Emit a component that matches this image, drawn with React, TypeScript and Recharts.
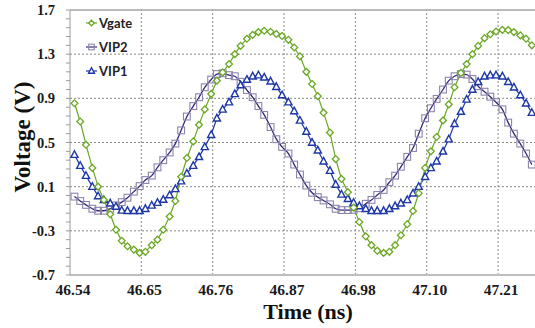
import { LineChart, Line, XAxis, YAxis, ReferenceLine, Label } from 'recharts'

// sample times (ns)
const time = [
  46.547, 46.556, 46.565, 46.575, 46.584, 46.593, 46.603, 46.612, 46.621, 46.63,
  46.64, 46.649, 46.658, 46.668, 46.677, 46.686, 46.696, 46.705, 46.714, 46.723,
  46.733, 46.742, 46.751, 46.761, 46.77, 46.779, 46.789, 46.798, 46.807, 46.817,
  46.826, 46.835, 46.844, 46.854, 46.863, 46.872, 46.882, 46.891, 46.9, 46.91,
  46.919, 46.928, 46.937, 46.947, 46.956, 46.965, 46.975, 46.984, 46.993, 47.003,
  47.012, 47.021, 47.031, 47.04, 47.049, 47.058, 47.068, 47.077, 47.086, 47.096,
  47.105, 47.114, 47.124, 47.133, 47.142, 47.152, 47.161, 47.17, 47.179, 47.189,
  47.198, 47.207, 47.217, 47.226, 47.235, 47.245, 47.254, 47.263,
]

const vgate = [
  0.855, 0.69, 0.48, 0.27, 0.1, -0.02, -0.15, -0.29, -0.39, -0.44,
  -0.47, -0.5, -0.49, -0.43, -0.38, -0.29, -0.17, -0.03, 0.19, 0.36,
  0.51, 0.66, 0.8, 0.94, 1.06, 1.135, 1.21, 1.3, 1.375, 1.44,
  1.475, 1.5, 1.512, 1.503, 1.483, 1.465, 1.43, 1.36, 1.28, 1.14,
  1.03, 0.92, 0.77, 0.59, 0.35, 0.17, 0.05, -0.09, -0.22, -0.35,
  -0.43, -0.48, -0.5, -0.49, -0.43, -0.34, -0.24, -0.12, 0.04, 0.27,
  0.42, 0.55, 0.7, 0.845, 1.0, 1.13, 1.21, 1.3, 1.375, 1.445,
  1.48, 1.505, 1.52, 1.518, 1.5, 1.47, 1.44, 1.38,
]

const vip2 = [
  0.01, -0.03, -0.065, -0.1, -0.118, -0.118, -0.1, -0.07, -0.04, 0.0,
  0.055, 0.105, 0.16, 0.2, 0.275, 0.34, 0.41, 0.49, 0.61, 0.735,
  0.83, 0.91, 1.0, 1.07, 1.12, 1.127, 1.11, 1.1, 1.05, 0.975,
  0.91, 0.83, 0.75, 0.64, 0.53, 0.46, 0.4, 0.3, 0.21, 0.11,
  0.045, 0.005, -0.025, -0.06, -0.1, -0.112, -0.112, -0.11, -0.095, -0.055,
  -0.02, 0.025, 0.07, 0.14, 0.2, 0.28, 0.37, 0.45, 0.58, 0.72,
  0.81, 0.895, 0.98, 1.06, 1.1, 1.12, 1.115, 1.075, 1.01, 0.96,
  0.915, 0.865, 0.8, 0.68, 0.58, 0.49, 0.4, 0.3,
]

const vip1 = [
  0.39, 0.29, 0.2, 0.1, 0.015, -0.02, -0.05, -0.08, -0.115, -0.118,
  -0.118, -0.118, -0.1, -0.07, -0.045, -0.017, 0.024, 0.08, 0.15, 0.22,
  0.29, 0.37, 0.46, 0.57, 0.72, 0.8, 0.865, 0.94, 1.02, 1.07,
  1.1, 1.11, 1.09, 1.055, 1.005, 0.93, 0.865, 0.785, 0.7, 0.6,
  0.5, 0.43, 0.33, 0.245, 0.12, 0.03, -0.01, -0.045, -0.075, -0.1,
  -0.118, -0.118, -0.118, -0.1, -0.075, -0.05, -0.02, 0.04, 0.1, 0.19,
  0.27, 0.33, 0.42, 0.53, 0.67, 0.78, 0.89, 0.98, 1.05, 1.1,
  1.11, 1.11, 1.1, 1.05, 1.0, 0.93, 0.855, 0.77,
]

const xTickLabels = ['46.54', '46.65', '46.76', '46.87', '46.98', '47.10', '47.21']
const xTickStep = 0.1117
const xDomain = [46.54, 47.268]
const yTickLabels = ['-0.7', '-0.3', '0.1', '0.5', '0.9', '1.3', '1.7']
const yMinorPerMajor = 5

const GREEN = '#6aa823'
const PURPLE_LINE = '#35277a'
const PURPLE_MARK = '#8c86ad'
const BLUE = '#1d37a6'
const GRID = '#8a8a8a'
const SERIF = '"Liberation Serif", "Times New Roman", serif'

const series = [
  { key: 'vgate', name: 'Vgate', line: GREEN, mark: GREEN, shape: 'diamond' },
  { key: 'vip2', name: 'VIP2', line: PURPLE_LINE, mark: PURPLE_MARK, shape: 'square' },
  { key: 'vip1', name: 'VIP1', line: BLUE, mark: BLUE, shape: 'triangle' },
]

const data = time.map((t, i) => ({ t, vgate: vgate[i], vip2: vip2[i], vip1: vip1[i] }))

const xTicks = xTickLabels.map((_, i) => +(xDomain[0] + i * xTickStep).toFixed(4))
const yMajor = yTickLabels.map(Number)
const yTicks: number[] = []
yMajor.forEach((v, i) => {
  if (i === yMajor.length - 1) {
    yTicks.push(v)
    return
  }
  const step = (yMajor[i + 1] - v) / yMinorPerMajor
  for (let j = 0; j < yMinorPerMajor; j++) yTicks.push(+(v + j * step).toFixed(3))
})

function Marker({ shape, cx, cy, color, s = 3.4 }: { shape: string; cx: number; cy: number; color: string; s?: number }) {
  if (shape === 'diamond') {
    return (
      <path
        d={`M${cx},${cy - s}L${cx + s},${cy}L${cx},${cy + s}L${cx - s},${cy}Z`}
        fill="#fff"
        stroke={color}
        strokeWidth={1.3}
      />
    )
  }
  if (shape === 'square') {
    return <rect x={cx - s} y={cy - s} width={2 * s} height={2 * s} fill="none" stroke={color} strokeWidth={1.1} />
  }
  return (
    <path
      d={`M${cx},${cy - s * 1.15}L${cx + s * 1.05},${cy + s * 0.8}L${cx - s * 1.05},${cy + s * 0.8}Z`}
      fill="#fff"
      stroke={color}
      strokeWidth={1.4}
    />
  )
}

function dotFor(shape: string, color: string) {
  return (p: any) => <Marker key={`${shape}-${p.index}`} shape={shape} cx={p.cx} cy={p.cy} color={color} />
}

function XTick({ x, y, payload }: any) {
  const idx = xTicks.findIndex((m) => Math.abs(m - payload.value) < 1e-6)
  return (
    <text x={x + 3} y={y + 20} textAnchor="middle" fontFamily={SERIF} fontWeight={700} fontSize={15.5} fill="#1a1a1a">
      {idx >= 0 ? xTickLabels[idx] : ''}
    </text>
  )
}

function YTick({ x, y, payload }: any) {
  const idx = yMajor.findIndex((m) => Math.abs(m - payload.value) < 1e-6)
  if (idx < 0) return <g />
  return (
    <text x={x} y={y + 5} textAnchor="end" fontFamily={SERIF} fontWeight={700} fontSize={14.5} fill="#1a1a1a">
      {yTickLabels[idx]}
    </text>
  )
}

function LegendBox() {
  return (
    <div
      style={{
        position: 'absolute',
        left: 85,
        top: 11,
        fontFamily: 'Lato, "Liberation Sans", sans-serif',
        fontWeight: 700,
        fontSize: 13,
        color: '#222',
      }}
    >
      {series.map((s) => (
        <div key={s.key} style={{ display: 'flex', alignItems: 'center', height: 24 }}>
          <svg width={13} height={10} style={{ marginRight: 1 }}>
            <line x1={1} y1={5} x2={12} y2={5} stroke={s.line} strokeWidth={1.2} />
            <Marker shape={s.shape} cx={6.5} cy={5} color={s.mark} s={2.8} />
          </svg>
          <span>{s.name}</span>
        </div>
      ))}
    </div>
  )
}

export default function App() {
  return (
    <div style={{ position: 'absolute', left: 0, top: 0, width: 535, height: 328, background: '#fff' }}>
      <LineChart width={535} height={328} data={data} margin={{ top: 10, right: 0, bottom: 23, left: 0 }}>
        {yMajor.slice(1, -1).map((v) => (
          <ReferenceLine key={`h${v}`} y={v} stroke={GRID} strokeDasharray="2 2" />
        ))}
        {xTicks.slice(1).map((v) => (
          <ReferenceLine key={`v${v}`} x={v} stroke={GRID} strokeDasharray="2 2" />
        ))}
        <ReferenceLine y={1.7} stroke="#a6a6a6" strokeWidth={1.5} />
        <XAxis
          dataKey="t"
          type="number"
          domain={xDomain}
          ticks={xTicks}
          allowDataOverflow
          height={30}
          tickSize={0}
          tickMargin={0}
          axisLine={{ stroke: '#bdbdbd', strokeWidth: 2 }}
          tickLine={false}
          tick={<XTick />}
        >
          <Label
            content={() => (
              <text x={308} y={319} textAnchor="middle" fontFamily={SERIF} fontWeight={700} fontSize={22} fill="#111">
                Time (ns)
              </text>
            )}
          />
        </XAxis>
        <YAxis
          type="number"
          domain={[yMajor[0], yMajor[yMajor.length - 1]]}
          ticks={yTicks}
          interval={0}
          allowDataOverflow
          width={70}
          tickSize={4}
          tickMargin={11}
          axisLine={{ stroke: '#9a9a9a' }}
          tickLine={{ stroke: '#9a9a9a' }}
          tick={<YTick />}
        >
          <Label
            content={() => (
              <text
                x={22}
                y={137}
                transform="rotate(-90 22 137)"
                textAnchor="middle"
                dominantBaseline="central"
                fontFamily={SERIF}
                fontWeight={700}
                fontSize={23}
                fill="#111"
              >
                Voltage (V)
              </text>
            )}
          />
        </YAxis>
        <Line
          dataKey="vip2"
          type="monotone"
          stroke={PURPLE_LINE}
          strokeWidth={1.3}
          dot={dotFor('square', PURPLE_MARK)}
          activeDot={false}
          isAnimationActive={false}
        />
        <Line
          dataKey="vip1"
          type="linear"
          stroke={BLUE}
          strokeWidth={1.2}
          dot={dotFor('triangle', BLUE)}
          activeDot={false}
          isAnimationActive={false}
        />
        <Line
          dataKey="vgate"
          type="linear"
          stroke={GREEN}
          strokeWidth={1.2}
          dot={dotFor('diamond', GREEN)}
          activeDot={false}
          isAnimationActive={false}
        />
      </LineChart>
      <LegendBox />
    </div>
  )
}
